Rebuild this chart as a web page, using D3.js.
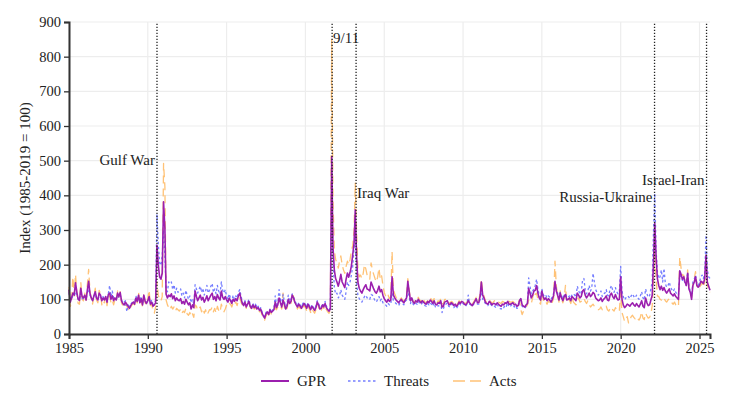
<!DOCTYPE html>
<html>
<head>
<meta charset="utf-8">
<script src="https://cdn.jsdelivr.net/npm/d3@7"></script>
<style>
  body { margin: 0; background: #fff; }
  svg text { font-family: "Liberation Serif", "DejaVu Serif", serif; fill: #222; }
</style>
</head>
<body>
<div id="chart"></div>
<script>
const width = 730;
const height = 402;

// monthly values, Jan 1985 .. Sep 2025 (one row per year)
const gpr = [
  128, 92, 104, 118, 112, 148, 121, 100, 97, 132, 108, 104,
  112, 98, 126, 152, 118, 104, 96, 110, 122, 104, 98, 118,
  112, 96, 104, 98, 108, 92, 114, 118, 100, 110, 96, 104,
  98, 118, 108, 120, 96, 88, 84, 92, 86, 80, 74, 82,
  88, 92, 86, 104, 94, 112, 90, 102, 84, 112, 94, 88,
  96, 108, 86, 92, 80, 84, 90, 256, 200, 165, 158, 176,
  381, 305, 115, 104, 112, 108, 116, 102, 110, 96, 104, 98,
  96, 102, 88, 94, 86, 100, 92, 84, 90, 72, 84, 76,
  124, 108, 96, 104, 112, 98, 106, 92, 100, 110, 96, 104,
  112, 118, 100, 108, 96, 114, 104, 98, 124, 106, 100, 108,
  98, 92, 104, 96, 88, 100, 94, 102, 96, 110, 118, 102,
  88, 82, 92, 78, 86, 94, 80, 74, 84, 76, 82, 72,
  76, 68, 72, 60, 52, 46, 58, 64, 56, 70, 62, 66,
  70, 92, 76, 84, 104, 90, 78, 98, 86, 72, 80, 100,
  88, 94, 112, 104, 92, 84, 78, 86, 80, 74, 82, 88,
  82, 74, 86, 78, 70, 80, 74, 68, 76, 92, 84, 72,
  74, 84, 78, 88, 76, 70, 66, 72, 512, 250, 185, 160,
  150, 138, 152, 172, 150, 142, 134, 158, 176, 164, 178, 196,
  228, 262, 358, 225, 150, 132, 124, 118, 128, 136, 142, 130,
  128, 124, 150, 140, 130, 122, 118, 126, 138, 122, 128, 112,
  102, 96, 92, 100, 94, 98, 165, 112, 104, 98, 94, 90,
  96, 100, 94, 90, 98, 104, 152, 122, 96, 104, 92, 88,
  96, 92, 100, 94, 90, 96, 92, 88, 86, 94, 90, 98,
  94, 88, 96, 86, 84, 90, 88, 96, 78, 80, 92, 94,
  96, 86, 84, 90, 88, 82, 86, 80, 84, 92, 88, 94,
  92, 86, 84, 88, 96, 90, 86, 82, 88, 94, 102, 90,
  90, 110, 150, 112, 104, 92, 88, 86, 94, 90, 84, 88,
  88, 84, 90, 86, 82, 80, 86, 84, 90, 88, 94, 86,
  86, 88, 90, 84, 86, 80, 82, 96, 102, 84, 80, 78,
  84, 88, 132, 118, 104, 112, 124, 126, 140, 118, 104, 98,
  124, 108, 100, 104, 96, 102, 98, 92, 100, 112, 152, 124,
  112, 98, 118, 104, 96, 108, 114, 98, 100, 104, 96, 108,
  104, 100, 96, 118, 112, 104, 108, 124, 128, 112, 104, 110,
  118, 108, 112, 120, 116, 104, 100, 96, 98, 104, 94, 100,
  104, 110, 98, 96, 112, 118, 108, 102, 114, 104, 98, 100,
  165, 100, 84, 76, 80, 86, 84, 80, 86, 90, 84, 80,
  88, 82, 78, 86, 96, 80, 76, 104, 90, 82, 84, 98,
  112, 210, 320, 222, 160, 140, 128, 138, 126, 134, 124, 118,
  124, 130, 118, 114, 110, 116, 108, 104, 100, 182, 172, 158,
  165, 150, 140, 175, 130, 120, 100, 140, 150, 165, 140, 135,
  140, 152, 150, 145, 160, 228, 150, 138, 126
];

const threats = [
  120, 98, 102, 110, 108, 122, 114, 102, 98, 118, 104, 100,
  108, 100, 118, 130, 112, 104, 98, 108, 116, 102, 100, 110,
  106, 100, 108, 102, 104, 96, 116, 140, 108, 124, 104, 102,
  100, 112, 106, 114, 98, 90, 92, 96, 64, 84, 80, 86,
  90, 96, 88, 110, 98, 106, 92, 108, 88, 104, 96, 90,
  94, 100, 90, 98, 86, 90, 96, 345, 260, 205, 198, 225,
  300, 225, 128, 122, 150, 145, 150, 128, 142, 118, 132, 120,
  124, 130, 110, 118, 104, 126, 112, 100, 110, 90, 100, 86,
  142, 130, 118, 128, 138, 120, 132, 112, 124, 140, 118, 126,
  138, 146, 120, 130, 116, 140, 124, 114, 150, 126, 118, 128,
  108, 100, 116, 104, 94, 112, 100, 110, 104, 120, 128, 110,
  92, 86, 96, 82, 90, 100, 84, 78, 88, 80, 86, 76,
  80, 70, 76, 64, 56, 50, 62, 66, 58, 72, 64, 70,
  74, 110, 84, 92, 128, 100, 84, 114, 94, 78, 88, 112,
  94, 100, 116, 106, 96, 88, 82, 90, 86, 78, 88, 92,
  86, 78, 90, 82, 74, 84, 78, 72, 80, 96, 88, 76,
  78, 88, 82, 94, 80, 74, 70, 76, 400, 210, 135, 115,
  118, 104, 110, 128, 112, 106, 100, 122, 150, 140, 150, 170,
  195, 245, 285, 150, 112, 102, 96, 92, 100, 108, 112, 104,
  104, 100, 114, 112, 104, 96, 92, 100, 108, 96, 102, 90,
  88, 84, 80, 88, 84, 86, 118, 96, 92, 88, 84, 82,
  90, 98, 88, 84, 94, 98, 126, 108, 88, 102, 86, 82,
  88, 86, 94, 88, 84, 90, 86, 82, 80, 88, 84, 90,
  86, 80, 90, 78, 76, 82, 80, 90, 62, 72, 84, 86,
  90, 80, 78, 86, 84, 76, 80, 74, 80, 88, 84, 90,
  88, 82, 80, 86, 112, 86, 84, 80, 86, 90, 98, 86,
  86, 100, 128, 100, 98, 88, 84, 82, 90, 86, 82, 84,
  80, 76, 84, 80, 74, 72, 78, 76, 84, 80, 90, 78,
  80, 84, 86, 78, 82, 74, 76, 94, 104, 80, 76, 74,
  80, 86, 162, 138, 116, 124, 130, 140, 158, 130, 112, 106,
  130, 114, 108, 112, 104, 110, 106, 100, 108, 118, 145, 130,
  118, 104, 120, 110, 102, 112, 116, 104, 106, 110, 104, 114,
  116, 112, 106, 138, 126, 114, 120, 155, 160, 128, 116, 124,
  140, 124, 132, 175, 150, 128, 120, 112, 118, 124, 108, 116,
  118, 128, 112, 110, 130, 140, 126, 120, 134, 122, 116, 120,
  195, 124, 108, 98, 104, 110, 108, 102, 110, 116, 108, 104,
  112, 104, 100, 110, 122, 104, 98, 130, 116, 106, 110, 130,
  150, 300, 406, 240, 180, 160, 165, 185, 150, 189, 145, 135,
  140, 150, 135, 128, 122, 130, 120, 116, 112, 170, 165, 155,
  160, 145, 140, 178, 135, 125, 110, 150, 158, 170, 145, 140,
  150, 165, 170, 160, 175, 285, 185, 165, 160
];

const acts = [
  136, 80, 98, 165, 110, 172, 118, 88, 86, 150, 100, 96,
  118, 90, 140, 186, 125, 100, 86, 110, 132, 98, 90, 126,
  116, 84, 96, 90, 108, 82, 108, 110, 90, 98, 84, 100,
  96, 124, 106, 122, 90, 82, 76, 86, 80, 72, 66, 78,
  84, 88, 84, 98, 90, 120, 86, 96, 78, 118, 90, 84,
  102, 127, 82, 88, 66, 60, 78, 150, 112, 100, 95, 108,
  492, 425, 98, 84, 76, 70, 80, 72, 78, 66, 74, 70,
  66, 72, 60, 66, 62, 74, 58, 54, 62, 50, 58, 48,
  84, 80, 68, 72, 78, 64, 74, 60, 70, 55, 62, 70,
  70, 78, 64, 74, 60, 80, 68, 62, 86, 72, 64, 72,
  84, 80, 88, 86, 78, 90, 84, 92, 82, 96, 104, 92,
  84, 78, 90, 74, 82, 92, 78, 70, 80, 72, 78, 68,
  72, 64, 68, 54, 46, 40, 52, 60, 50, 66, 58, 60,
  66, 76, 70, 78, 84, 82, 72, 118, 78, 66, 74, 92,
  82, 88, 118, 108, 88, 80, 72, 80, 74, 68, 76, 82,
  76, 66, 80, 72, 62, 74, 66, 60, 70, 90, 78, 64,
  68, 80, 74, 82, 70, 64, 60, 68, 850, 390, 240, 215,
  205, 190, 210, 225, 200, 185, 175, 195, 210, 200, 215, 240,
  255, 300, 435, 290, 190, 165, 170, 160, 175, 200, 188, 170,
  165, 158, 205, 185, 172, 160, 150, 164, 190, 158, 168, 140,
  120, 110, 104, 112, 102, 108, 238, 128, 116, 106, 100, 96,
  100, 104, 98, 94, 102, 110, 160, 128, 98, 100, 94, 90,
  100, 96, 106, 98, 94, 104, 98, 92, 90, 96, 92, 104,
  100, 94, 102, 92, 88, 96, 92, 102, 88, 86, 100, 100,
  102, 92, 88, 94, 92, 86, 90, 84, 88, 96, 92, 98,
  96, 90, 88, 92, 100, 94, 90, 86, 92, 98, 106, 94,
  94, 120, 158, 120, 110, 96, 92, 90, 98, 94, 88, 92,
  96, 92, 96, 92, 90, 88, 94, 92, 96, 96, 98, 94,
  92, 92, 94, 90, 90, 86, 88, 98, 70, 56, 66, 72,
  78, 84, 98, 92, 88, 104, 122, 114, 118, 100, 92, 86,
  118, 100, 90, 94, 86, 96, 90, 84, 92, 104, 210, 140,
  110, 92, 124, 100, 90, 104, 140, 92, 94, 98, 88, 106,
  92, 88, 84, 100, 104, 92, 94, 98, 104, 94, 88, 96,
  84, 78, 82, 86, 80, 74, 72, 70, 72, 78, 70, 76,
  76, 80, 70, 66, 74, 78, 70, 66, 76, 70, 64, 68,
  120, 62, 50, 36, 44, 50, 32, 42, 50, 54, 48, 44,
  50, 44, 40, 48, 64, 46, 42, 60, 52, 46, 48, 58,
  82, 150, 240, 160, 110, 108, 100, 98, 96, 104, 96, 92,
  98, 102, 94, 90, 86, 92, 84, 80, 78, 222, 190, 170,
  170, 150, 140, 185, 130, 125, 105, 145, 160, 180, 140, 130,
  135, 140, 150, 135, 150, 205, 140, 125, 120
];

const seriesNames = ["GPR", "Threats", "Acts"];
const yTicks = [0, 100, 200, 300, 400, 500, 600, 700, 800, 900];
const xTickYears = [1985, 1990, 1995, 2000, 2005, 2010, 2015, 2020, 2025];

const eventNames = ["Gulf War", "9/11", "Iraq War", "Russia-Ukraine", "Israel-Iran"];
const eventDates = ["1990-08-02", "2001-09-11", "2003-03-20", "2022-02-24", "2025-06-13"];

// label placement (index value for baseline, side of the line)
const eventLabelY = [488, 838, 392, 382, 430];
const eventLabelSide = ["end", "start", "start", "end", "end"];

const serif = "'Liberation Serif', 'DejaVu Serif', serif";
const margin = { top: 22, right: 20, bottom: 68, left: 69 };

const svg = d3.select("#chart")
  .append("svg")
  .attr("width", width)
  .attr("height", height)
  .attr("font-family", serif);

const parse = d3.timeParse("%Y-%m-%d");
const dates = gpr.map((d, i) => new Date(1985, i, 1));

const x = d3.scaleTime()
  .domain([new Date(1985, 0, 1), dates[dates.length - 1]])
  .range([margin.left, width - margin.right]);

const y = d3.scaleLinear()
  .domain([0, 900])
  .range([height - margin.bottom, margin.top]);

// GRID

const grid = svg.append("g");
grid.selectAll(".gy")
  .data(yTicks)
  .enter()
  .append("line")
  .attr("x1", margin.left)
  .attr("x2", width - margin.right)
  .attr("y1", (d) => y(d))
  .attr("y2", (d) => y(d))
  .attr("stroke", "#ededed")
  .attr("stroke-width", 1.2);

grid.selectAll(".gx")
  .data(xTickYears)
  .enter()
  .append("line")
  .attr("x1", (d) => x(new Date(d, 0, 1)))
  .attr("x2", (d) => x(new Date(d, 0, 1)))
  .attr("y1", margin.top)
  .attr("y2", height - margin.bottom)
  .attr("stroke", "#ededed")
  .attr("stroke-width", 1.2);

// LINES

const styles = {
  Acts: { color: "#ffb75e", dash: "8,5", width: 1.3, opacity: 0.85 },
  Threats: { color: "#6670ff", dash: "2.5,2.5", width: 1.3, opacity: 0.9 },
  GPR: { color: "#9b1fae", dash: null, width: 1.6, opacity: 1 }
};

const seriesData = { GPR: gpr, Threats: threats, Acts: acts };

const line = d3.line()
  .x((d, i) => x(dates[i]))
  .y((d) => y(d));

["Acts", "Threats", "GPR"].forEach((name) => {
  const s = styles[name];
  svg.append("path")
    .datum(seriesData[name])
    .attr("fill", "none")
    .attr("stroke", s.color)
    .attr("stroke-width", s.width)
    .attr("stroke-opacity", s.opacity)
    .attr("stroke-dasharray", s.dash)
    .attr("stroke-linejoin", "round")
    .attr("d", line);
});

// EVENTS

const events = eventNames.map((name, i) => ({
  name: name,
  date: parse(eventDates[i]),
  labelY: eventLabelY[i],
  side: eventLabelSide[i]
}));

svg.append("g")
  .selectAll("line")
  .data(events)
  .enter()
  .append("line")
  .attr("x1", (d) => x(d.date))
  .attr("x2", (d) => x(d.date))
  .attr("y1", y(0))
  .attr("y2", margin.top)
  .attr("stroke", "#222")
  .attr("stroke-width", 1.3)
  .attr("stroke-dasharray", "1.3,1.7");

svg.append("g")
  .selectAll("text")
  .data(events)
  .enter()
  .append("text")
  .attr("x", (d) => x(d.date) + (d.side == "end" ? -2 : 1))
  .attr("y", (d) => y(d.labelY))
  .attr("text-anchor", (d) => d.side)
  .style("font-size", "15px")
  .text((d) => d.name);

// AXES

const yAxis = svg.append("g")
  .attr("transform", `translate(${margin.left},0)`)
  .call(d3.axisLeft(y).tickValues(yTicks).tickSize(5).tickPadding(3));

const xAxis = svg.append("g")
  .attr("transform", `translate(0,${y(0)})`)
  .call(
    d3.axisBottom(x)
      .tickValues(xTickYears.map((d) => new Date(d, 0, 1)))
      .tickFormat(d3.timeFormat("%Y"))
      .tickSize(5)
      .tickPadding(4)
  );

[yAxis, xAxis].forEach((ax) => {
  ax.attr("font-family", serif).attr("font-size", 14);
  ax.select(".domain").attr("stroke", "#333").attr("stroke-width", 2);
  ax.selectAll(".tick line").attr("stroke", "#333").attr("stroke-width", 1.3);
  ax.selectAll(".tick text")
    .style("font-family", serif)
    .style("font-size", "14.5px")
    .attr("fill", "#333");
});

svg.append("text")
  .attr("transform", `translate(30,${(margin.top + y(0)) / 2}) rotate(-90)`)
  .attr("text-anchor", "middle")
  .style("font-size", "15px")
  .text("Index (1985-2019 = 100)");

// LEGEND

const legendX = [261, 348, 453];
const legend = svg.append("g").attr("transform", "translate(0,381)");

seriesNames.forEach((name, i) => {
  const s = styles[name];
  legend.append("line")
    .attr("x1", legendX[i])
    .attr("x2", legendX[i] + 28)
    .attr("y1", 0)
    .attr("y2", 0)
    .attr("stroke", s.color)
    .attr("stroke-width", s.width + 0.4)
    .attr("stroke-opacity", s.opacity)
    .attr("stroke-dasharray", name == "Acts" ? "12,5" : s.dash);
  legend.append("text")
    .attr("x", legendX[i] + 36)
    .attr("y", 5)
    .style("font-size", "15px")
    .text(name);
});
</script>
</body>
</html>
